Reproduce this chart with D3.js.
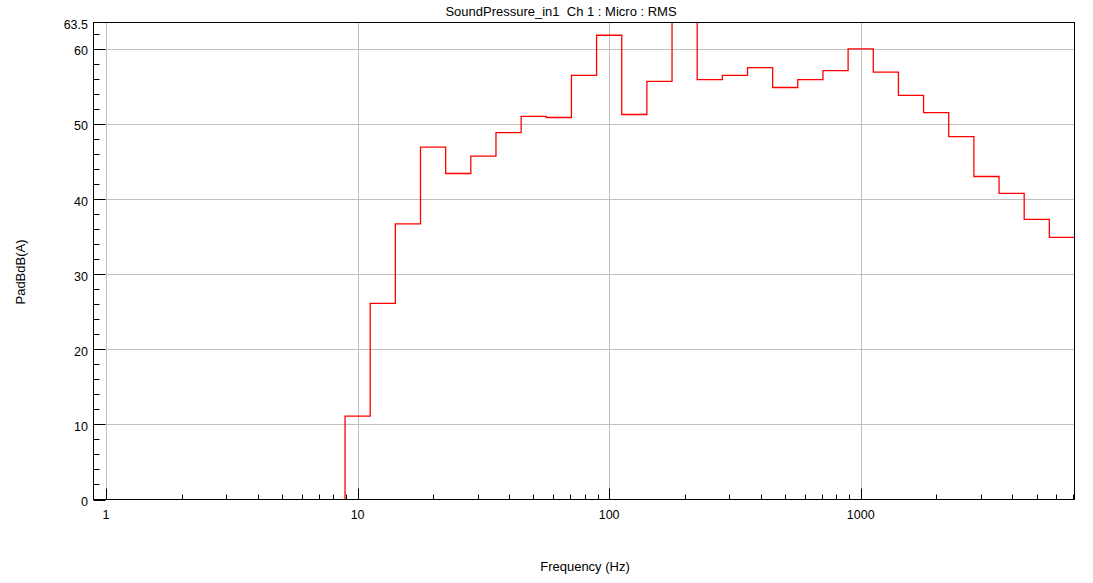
<!DOCTYPE html>
<html>
<head>
<meta charset="utf-8">
<script src="https://cdn.jsdelivr.net/npm/d3@7"></script>
<style>
  html, body { margin: 0; padding: 0; background: #fff; }
  svg { display: block; font-family: "Liberation Sans", Arial, sans-serif; }
  text { white-space: pre; }
</style>
</head>
<body>
<svg id="chart" width="1093" height="583"></svg>
<script>
// ---- data (1/3-octave band levels, dB(A)) ----
const bandCenters = [10, 12.5, 16, 20, 25, 31.5, 40, 50, 63, 80, 100, 125, 160, 200, 250, 315, 400, 500, 630, 800, 1000, 1250, 1600, 2000, 2500, 3150, 4000, 5000, 6300];
const bandLevels  = [11.1, 26.1, 36.7, 46.9, 43.4, 45.7, 48.85, 51.0, 50.85, 56.45, 61.8, 51.25, 55.65, 66.0, 55.9, 56.45, 57.5, 54.85, 55.9, 57.1, 60.0, 56.9, 53.8, 51.5, 48.3, 43.0, 40.75, 37.3, 34.9];
const yMajorTicks = [0, 10, 20, 30, 40, 50, 60];
const yTopLabel = 63.5;
const xMajorTicks = [1, 10, 100, 1000];
const titleText = "SoundPressure_in1  Ch 1 : Micro : RMS";
const xTitle = "Frequency (Hz)";
const yTitle = "PadBdB(A)";

(function () {
  // ---- layout ----
  const pLeft = 93.5, pRight = 1074.5, pTop = 22.5, pBottom = 499.5;
  const svg = d3.select("#chart");

  const x = d3.scaleLog().domain([Math.pow(10, -0.05), Math.pow(10, 3.85)]).range([pLeft, pRight]);
  const y = d3.scaleLinear().domain([0, 63.5]).range([pBottom, pTop]);
  const px = v => Math.round(v) + 0.5;

  // grid
  const grid = svg.append("g");
  grid.selectAll("line.gy").data(yMajorTicks.filter(d => d > 0)).join("line")
    .attr("x1", pLeft).attr("x2", pRight)
    .attr("y1", d => px(y(d))).attr("y2", d => px(y(d)))
    .attr("stroke", "#c0c0c0").attr("stroke-width", 1);
  grid.selectAll("line.gx").data(xMajorTicks).join("line")
    .attr("x1", d => px(x(d))).attr("x2", d => px(x(d)))
    .attr("y1", pTop).attr("y2", pBottom)
    .attr("stroke", "#c0c0c0").attr("stroke-width", 1);

  // clip
  svg.append("clipPath").attr("id", "plotclip").append("rect")
    .attr("x", pLeft).attr("y", pTop).attr("width", pRight - pLeft).attr("height", pBottom - pTop);

  // step points: band edges at 10^((n±0.5)/10)
  const bandIdx = bandCenters.map(c => Math.round(10 * Math.log10(c)));
  const seq = [[Math.pow(10, (bandIdx[0] - 0.5) / 10), 0]];
  bandIdx.forEach((n, i) => {
    seq.push([Math.pow(10, (n - 0.5) / 10), bandLevels[i]]);
    seq.push([Math.pow(10, (n + 0.5) / 10), bandLevels[i]]);
  });
  svg.append("path")
    .attr("clip-path", "url(#plotclip)")
    .attr("d", d3.line().x(d => x(d[0])).y(d => y(d[1]))(seq))
    .attr("fill", "none").attr("stroke", "#ff0000").attr("stroke-width", 1.3);

  // frame
  svg.append("rect").attr("x", pLeft).attr("y", pTop).attr("width", pRight - pLeft).attr("height", pBottom - pTop)
    .attr("fill", "none").attr("stroke", "#000").attr("stroke-width", 1);

  // y ticks
  const yMinor = d3.range(0, 63.5, 2).filter(d => d % 10 !== 0);
  svg.append("g").selectAll("line").data(yMinor).join("line")
    .attr("x1", pLeft).attr("x2", pLeft + 6)
    .attr("y1", d => px(y(d))).attr("y2", d => px(y(d)))
    .attr("stroke", "#000");
  svg.append("g").selectAll("line").data(yMajorTicks).join("line")
    .attr("x1", pLeft).attr("x2", pLeft + 12)
    .attr("y1", d => px(y(d))).attr("y2", d => px(y(d)))
    .attr("stroke", "#000");
  svg.append("g").selectAll("text").data(yMajorTicks.concat([yTopLabel])).join("text")
    .attr("x", 88).attr("y", d => y(d) + 6.5)
    .attr("text-anchor", "end").attr("font-size", 12.5).attr("fill", "#000")
    .text(d => d);

  // x ticks
  const xMinor = [];
  xMajorTicks.forEach(dec => { for (let k = 2; k <= 9; k++) { const v = dec * k; if (v <= 7000) xMinor.push(v); } });
  svg.append("g").selectAll("line").data(xMinor).join("line")
    .attr("x1", d => px(x(d))).attr("x2", d => px(x(d)))
    .attr("y1", pBottom).attr("y2", pBottom - 5)
    .attr("stroke", "#000");
  svg.append("g").selectAll("line").data(xMajorTicks).join("line")
    .attr("x1", d => px(x(d))).attr("x2", d => px(x(d)))
    .attr("y1", pBottom).attr("y2", pBottom - 11)
    .attr("stroke", "#000");
  svg.append("g").selectAll("text").data(xMajorTicks).join("text")
    .attr("x", d => x(d)).attr("y", 519)
    .attr("text-anchor", "middle").attr("font-size", 12.5).attr("fill", "#000")
    .text(d => d);

  // titles
  svg.append("text").attr("x", 561).attr("y", 16).attr("text-anchor", "middle")
    .attr("font-size", 13).attr("fill", "#000").text(titleText);
  svg.append("text").attr("x", 585).attr("y", 571).attr("text-anchor", "middle")
    .attr("font-size", 13).attr("fill", "#000").text(xTitle);
  svg.append("text").attr("transform", "translate(24.5,272) rotate(-90)").attr("text-anchor", "middle")
    .attr("font-size", 13).attr("fill", "#000").text(yTitle);
})();
</script>
</body>
</html>
